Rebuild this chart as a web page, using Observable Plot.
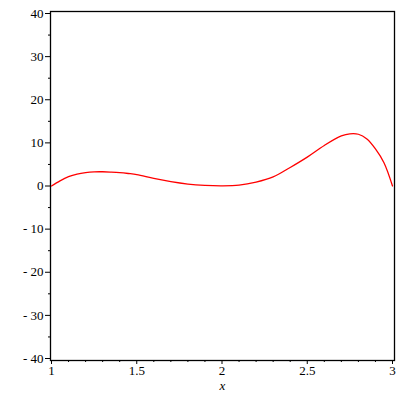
<!DOCTYPE html>
<html>
<head>
<meta charset="utf-8">
<script src="https://cdn.jsdelivr.net/npm/d3@7"></script>
<script src="https://cdn.jsdelivr.net/npm/@observablehq/plot@0.6"></script>
<style>
  html, body { margin: 0; padding: 0; background: #fff; }
  #chart svg { display: block; }
  #chart svg text { font-family: "Liberation Serif", "DejaVu Serif", serif !important; }
</style>
</head>
<body>
<div id="chart"></div>
<script>
const xs = [1.00, 1.05, 1.10, 1.15, 1.20, 1.25, 1.30, 1.35, 1.40, 1.45, 1.50, 1.60, 1.70, 1.80, 1.90, 2.00, 2.10, 2.20, 2.30, 2.40, 2.50, 2.60, 2.70, 2.75, 2.80, 2.85, 2.90, 2.95, 3.00];
const ys = [0.0, 1.2, 2.15, 2.75, 3.1, 3.28, 3.3, 3.22, 3.1, 2.9, 2.65, 1.75, 1.0, 0.45, 0.15, 0.05, 0.2, 0.9, 2.1, 4.3, 6.7, 9.4, 11.6, 12.1, 12.0, 10.9, 8.6, 5.4, 0.0];
const xMajor = [1, 1.5, 2, 2.5, 3];
const xMinor = [1.1, 1.2, 1.3, 1.4, 1.6, 1.7, 1.8, 1.9, 2.1, 2.2, 2.3, 2.4, 2.6, 2.7, 2.8, 2.9];
const yMajor = [-40, -30, -20, -10, 0, 10, 20, 30, 40];
const yMinor = [-35, -25, -15, -5, 5, 15, 25, 35];
const xLabel = "x";

const data = xs.map((x, i) => ({x, y: ys[i]}));

const chart = Plot.plot({
  width: 400,
  height: 400,
  marginLeft: 50,
  marginRight: 6,
  marginTop: 11,
  marginBottom: 40,
  style: {fontFamily: "Liberation Serif", fontSize: "13px", color: "black"},
  x: {domain: [1, 3], insetLeft: 1, insetRight: 2},
  y: {domain: [-40, 40], insetTop: 2, insetBottom: 2},
  marks: [
    Plot.frame({stroke: "black", strokeWidth: 1.3}),
    Plot.axisY({ticks: yMajor, tickSize: 5, tickPadding: 2, label: null,
      tickFormat: d => d < 0 ? "- " + Math.abs(d) : String(d)}),
    Plot.axisY({ticks: yMinor, tickSize: 2, tickFormat: () => "", label: null}),
    Plot.axisX({ticks: xMajor, tickSize: 4, tickPadding: 1, label: null, tickFormat: d => String(d)}),
    Plot.axisX({ticks: xMinor, tickSize: 2, tickFormat: () => "", label: null}),
    Plot.line(data, {x: "x", y: "y", stroke: "red", strokeWidth: 1.3, curve: "catmull-rom"}),
    Plot.text([xLabel], {frameAnchor: "bottom", dy: 29, text: d => d, fontStyle: "italic", fontSize: 13})
  ]
});
document.getElementById("chart").appendChild(chart);
</script>
</body>
</html>
